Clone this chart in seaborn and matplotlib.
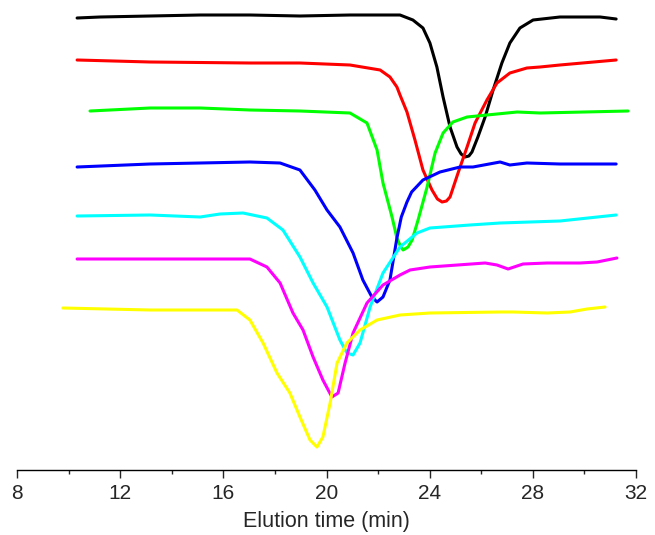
import matplotlib
matplotlib.use("Agg")
import matplotlib.pyplot as plt
from matplotlib.ticker import MultipleLocator
import numpy as np
import pandas as pd
import seaborn as sns

# Elution time (min) and signal height (arbitrary units, offset traces)
black_t = [10.33, 11.22, 13.16, 15.10, 17.03, 18.97, 20.91, 22.85, 23.35, 23.74, 24.01, 24.28, 24.52, 24.79,
           25.06, 25.22, 25.37, 25.52, 25.64, 25.87, 26.15, 26.46, 26.80, 27.11, 27.50, 28.01, 29.05, 30.61, 31.23]
black_y = [452, 453, 454, 455, 455, 454, 455, 455, 450, 442, 427, 403, 373, 343,
           323, 316, 313, 314, 318, 333, 353, 380, 407, 427, 442, 450, 453, 453, 451]

red_t = [10.33, 13.16, 17.03, 18.97, 20.91, 22.08, 22.46, 22.73, 22.85, 23.12, 23.43, 23.74, 24.09, 24.30,
         24.48, 24.65, 24.79, 25.10, 25.45, 25.76, 26.22, 26.61, 27.11, 27.77, 28.28, 29.05, 31.23]
red_y = [410, 408, 407, 407, 405, 400, 393, 383, 375, 358, 330, 300, 280, 271,
         268, 269, 273, 297, 323, 347, 370, 387, 397, 402, 403, 405, 410]

green_t = [10.83, 13.16, 15.10, 17.03, 18.97, 20.91, 21.57, 21.96, 22.19, 22.54, 22.73, 22.88, 22.97, 23.16,
           23.32, 23.55, 23.90, 24.21, 24.52, 24.90, 25.45, 26.22, 27.39, 28.28, 31.69]
green_y = [359, 362, 362, 360, 359, 357, 347, 320, 287, 253, 232, 223, 220, 223,
           230, 250, 283, 317, 337, 348, 353, 355, 358, 357, 359]

blue_t = [10.33, 13.16, 15.10, 17.03, 18.20, 18.97, 19.55, 20.02, 20.52, 21.03, 21.41, 21.76, 21.96, 22.19,
          22.46, 22.73, 22.90, 23.12, 23.30, 23.74, 24.40, 25.18, 25.68, 26.73, 27.11, 27.77, 29.05, 31.23]
blue_y = [303, 306, 307, 308, 307, 300, 280, 260, 243, 217, 190, 173, 168, 173,
          190, 232, 253, 268, 278, 290, 298, 303, 303, 308, 305, 307, 306, 306]

cyan_t = [10.33, 13.16, 15.10, 15.87, 16.76, 17.69, 18.31, 18.97, 19.48, 20.02, 20.52, 20.79, 21.03, 21.30,
          21.69, 22.19, 22.85, 23.51, 24.01, 25.56, 26.73, 29.05, 31.23]
cyan_y = [254, 255, 253, 256, 257, 252, 240, 213, 187, 163, 130, 117, 115, 127,
          163, 197, 223, 237, 242, 245, 247, 249, 255]

magenta_t = [10.33, 13.16, 17.03, 17.69, 18.20, 18.70, 19.09, 19.48, 19.86, 20.21, 20.45, 20.72, 21.03, 21.57,
             22.19, 22.85, 23.24, 24.01, 26.15, 26.61, 27.04, 27.62, 28.55, 29.83, 30.49, 31.26]
magenta_y = [211, 211, 211, 203, 187, 157, 140, 113, 90, 73, 77, 107, 137, 167,
             185, 195, 200, 203, 207, 205, 201, 206, 207, 207, 208, 212]

yellow_t = [9.78, 13.16, 16.53, 17.03, 17.54, 18.08, 18.58, 18.97, 19.36, 19.63, 19.86, 20.14, 20.41, 20.79,
            21.30, 21.96, 22.85, 24.01, 26.73, 27.23, 28.55, 29.44, 30.10, 30.80]
yellow_y = [162, 160, 160, 150, 127, 97, 77, 53, 30, 23, 33, 67, 107, 127,
            140, 150, 155, 157, 158, 158, 157, 158, 161, 163]

series_names = ["black", "red", "green", "blue", "cyan", "magenta", "yellow"]
series_colors = ["#000000", "#FF0000", "#00FF00", "#0000FF", "#00FFFF", "#FF00FF", "#FFFF00"]
series_t = [black_t, red_t, green_t, blue_t, cyan_t, magenta_t, yellow_t]
series_y = [black_y, red_y, green_y, blue_y, cyan_y, magenta_y, yellow_y]

x_ticks = [8, 12, 16, 20, 24, 28, 32]
x_label = "Elution time (min)"

frames = []
for name, t, y in zip(series_names, series_t, series_y):
    frames.append(pd.DataFrame({"time": t, "signal": y, "series": name}))
df = pd.concat(frames, ignore_index=True)

sns.set_style("white")
plt.rcParams["font.family"] = ["Liberation Sans", "DejaVu Sans"]

fig = plt.figure(figsize=(6.55, 5.35), dpi=100)
ax = fig.add_axes([17 / 655, (535 - 470) / 535, (636 - 17) / 655, 465 / 535])

sns.lineplot(data=df, x="time", y="signal", hue="series", hue_order=series_names,
             palette=dict(zip(series_names, series_colors)), estimator=None, sort=False,
             legend=False, linewidth=2.2, ax=ax)
for line in ax.get_lines():
    line.set_solid_joinstyle("round")
    line.set_solid_capstyle("round")

ax.set_xlim(8, 32)
ax.set_ylim(0, 465)
ax.set_xticks(x_ticks)
ax.xaxis.set_minor_locator(MultipleLocator(2))
ax.set_yticks([])
ax.set_ylabel("")
ax.set_xlabel(x_label, fontsize=15.5, labelpad=6)
for s in ["left", "top", "right"]:
    ax.spines[s].set_visible(False)
ax.spines["bottom"].set_linewidth(1.0)
ax.spines["bottom"].set_color("black")
ax.tick_params(axis="x", which="major", direction="out", length=6, width=1.0, labelsize=15, pad=4, bottom=True)
ax.tick_params(axis="x", which="minor", direction="out", length=3, width=1.0, bottom=True)

fig.savefig("out.png", dpi=100)
